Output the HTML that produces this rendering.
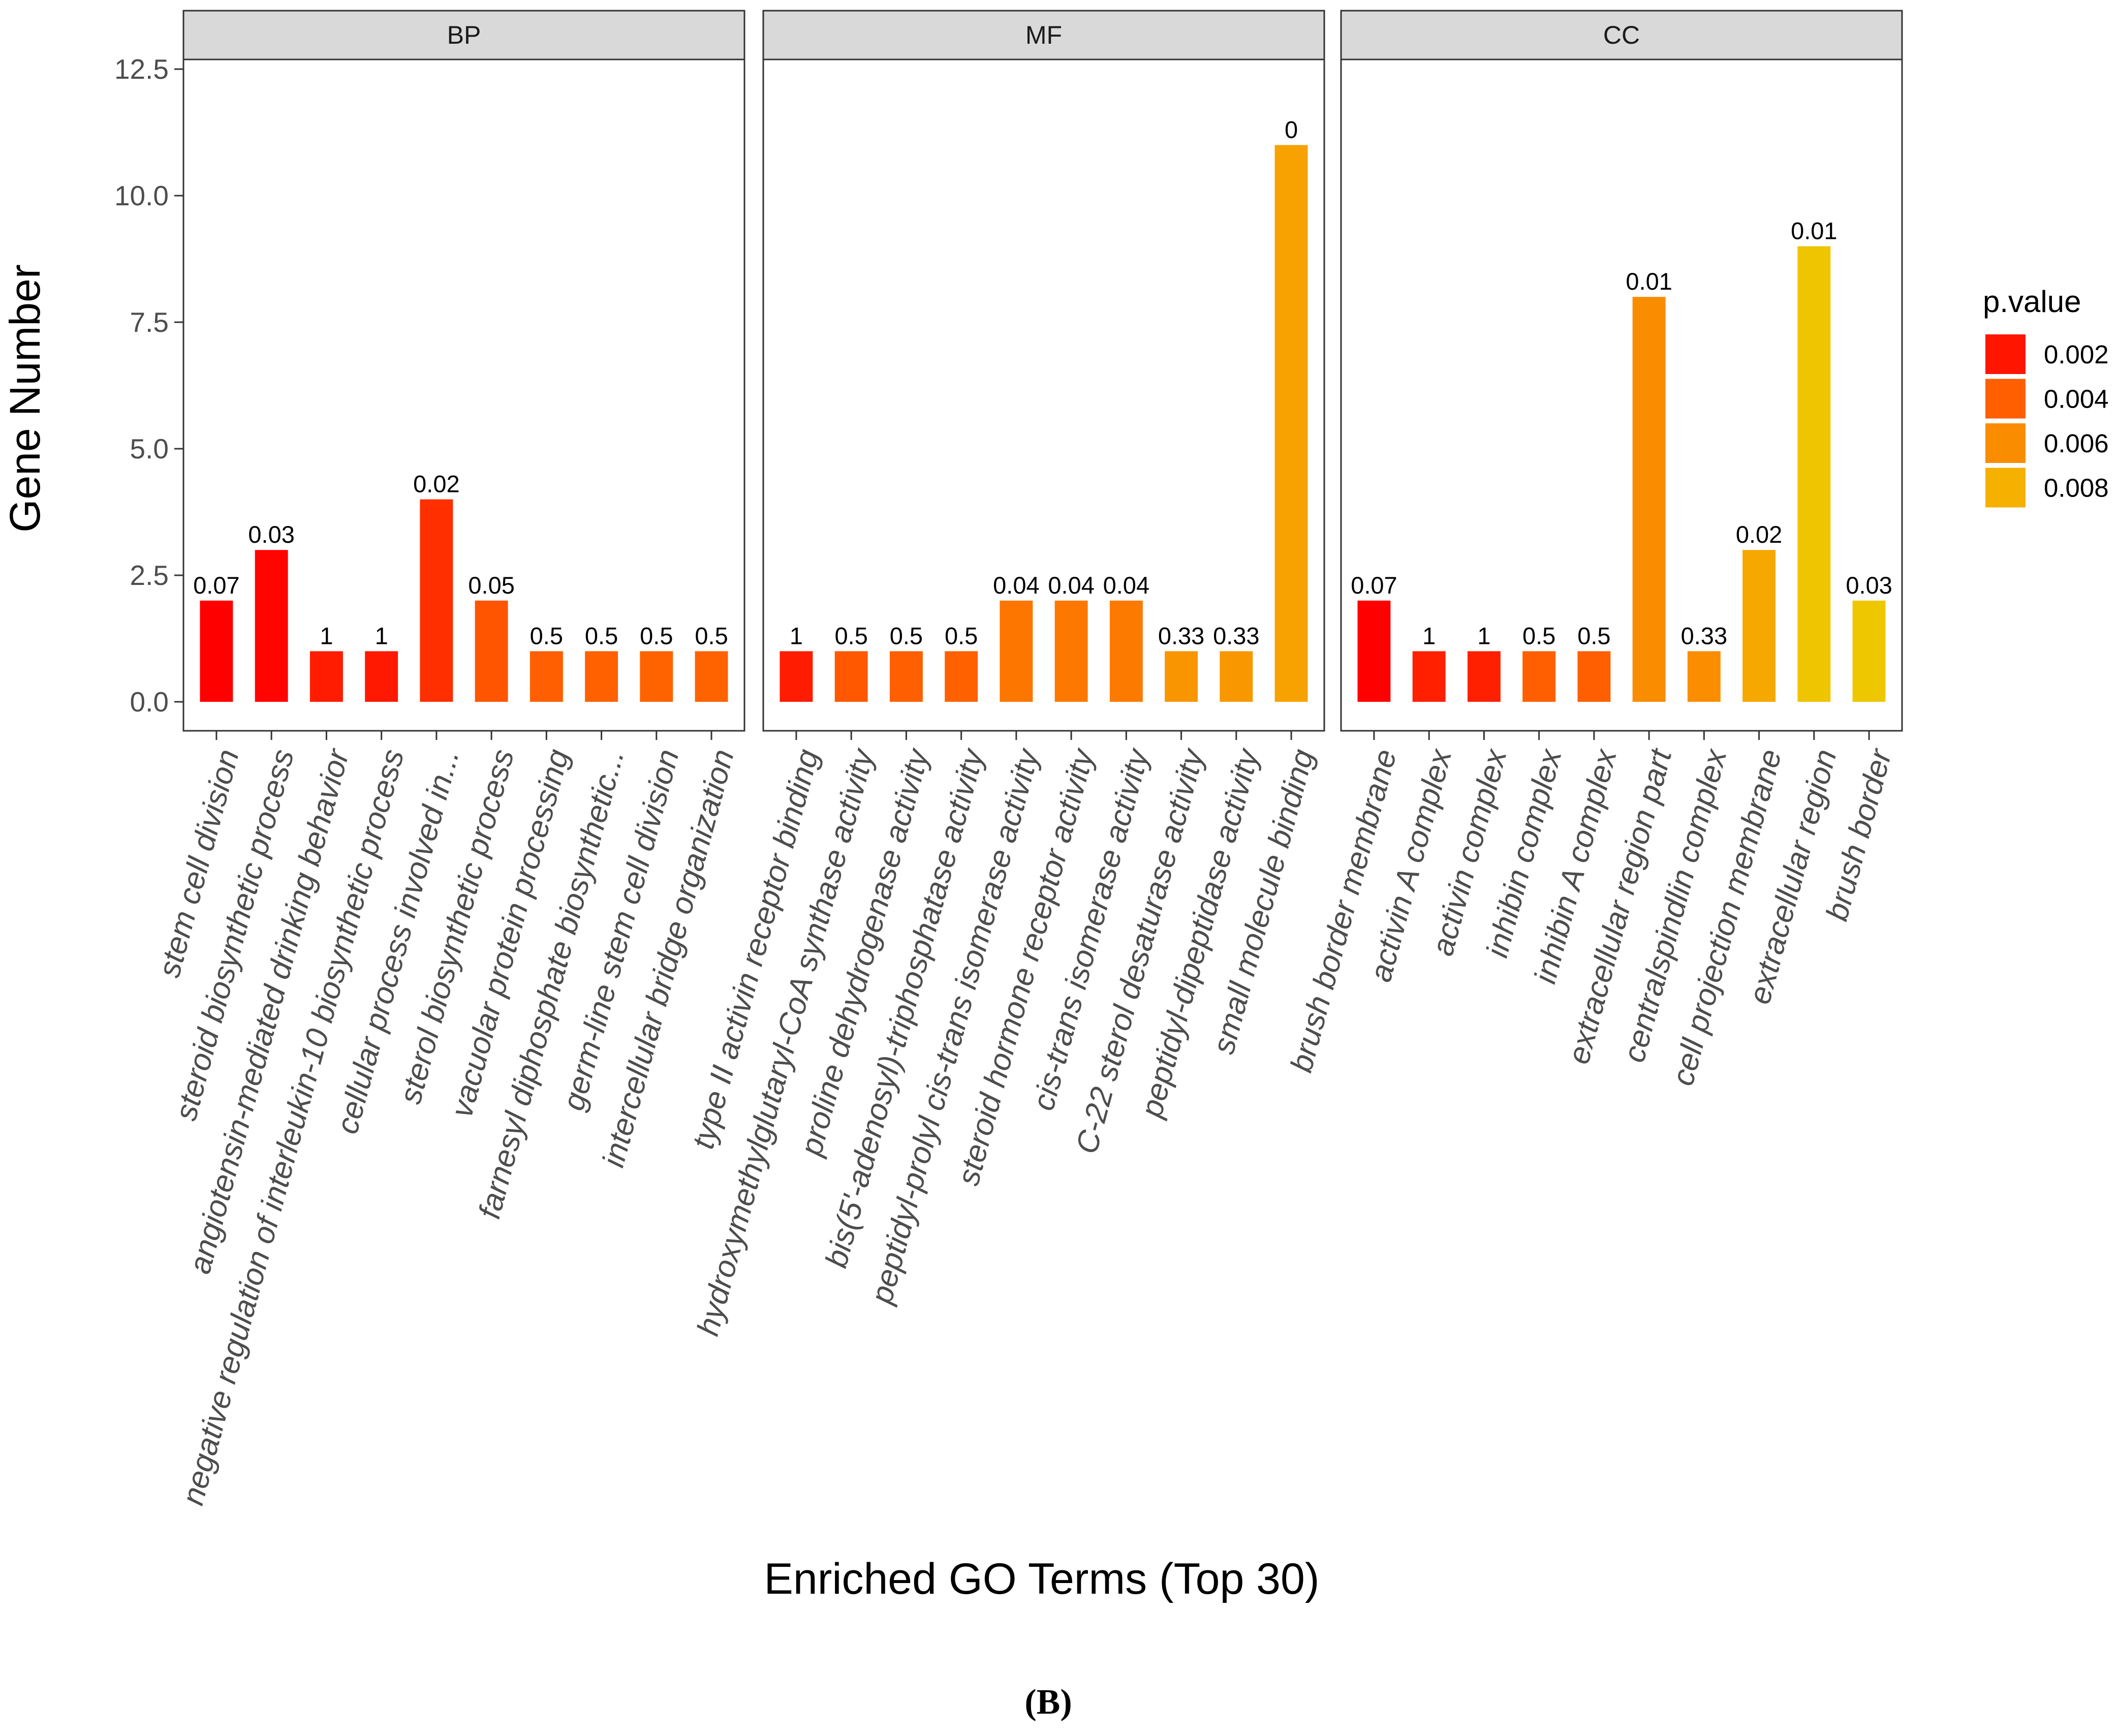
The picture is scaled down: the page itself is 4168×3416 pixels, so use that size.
<!DOCTYPE html>
<html><head><meta charset="utf-8"><style>
html,body{margin:0;padding:0;background:#fff;}
svg{display:block;font-family:"Liberation Sans",sans-serif;}
</style></head><body>
<svg id="chart" width="4168" height="3416" viewBox="0 0 4168 3416" xmlns="http://www.w3.org/2000/svg"></svg>
<script>
const panels = ["BP","MF","CC"];
const bpTerms = ["stem cell division","steroid biosynthetic process","angiotensin-mediated drinking behavior","negative regulation of interleukin-10 biosynthetic process","cellular process involved in...","sterol biosynthetic process","vacuolar protein processing","farnesyl diphosphate biosynthetic...","germ-line stem cell division","intercellular bridge organization"];
const mfTerms = ["type II activin receptor binding","hydroxymethylglutaryl-CoA synthase activity","proline dehydrogenase activity","bis(5'-adenosyl)-triphosphatase activity","peptidyl-prolyl cis-trans isomerase activity","steroid hormone receptor activity","cis-trans isomerase activity","C-22 sterol desaturase activity","peptidyl-dipeptidase activity","small molecule binding"];
const ccTerms = ["brush border membrane","activin A complex","activin complex","inhibin complex","inhibin A complex","extracellular region part","centralspindlin complex","cell projection membrane","extracellular region","brush border"];
const bpCounts = [2,3,1,1,4,2,1,1,1,1];
const mfCounts = [1,1,1,1,2,2,2,1,1,11];
const ccCounts = [2,1,1,1,1,8,1,3,9,2];
const bpLabels = ["0.07","0.03","1","1","0.02","0.05","0.5","0.5","0.5","0.5"];
const mfLabels = ["1","0.5","0.5","0.5","0.04","0.04","0.04","0.33","0.33","0"];
const ccLabels = ["0.07","1","1","0.5","0.5","0.01","0.33","0.02","0.01","0.03"];
const bpP = [0.0015,0.0016,0.0022,0.0021,0.0027,0.0037,0.0040,0.0041,0.0042,0.0042];
const mfP = [0.0022,0.0038,0.0040,0.0041,0.0050,0.0051,0.0052,0.0065,0.0066,0.0072];
const ccP = [0.0015,0.0023,0.0023,0.0040,0.0040,0.0060,0.0061,0.0075,0.0092,0.0094];
const yTicks = [0,2.5,5,7.5,10,12.5];
const yTickLabels = ["0.0","2.5","5.0","7.5","10.0","12.5"];
const legendValues = [0.002,0.004,0.006,0.008];
const legendLabels = ["0.002","0.004","0.006","0.008"];

const NS="http://www.w3.org/2000/svg";
const svg=document.getElementById('chart');
function mk(tag,attrs,parent,text){const e=document.createElementNS(NS,tag);for(const k in attrs)e.setAttribute(k,attrs[k]);if(text!==undefined)e.textContent=text;(parent||svg).appendChild(e);return e;}

const panelX=[361,1502,2639], panelW=1104, panelTop=117, panelBot=1438, stripTop=21;
const y0=1381, yUnit=99.6;
function yScale(v){return y0-v*yUnit;}
function xScale(p,i){const u=panelW/10.2;return panelX[p]+(0.6+i)*u;}
const stops=[[0.0015,[255,0,0]],[0.002,[255,21,0]],[0.004,[255,95,0]],[0.006,[250,140,0]],[0.008,[245,176,0]],[0.0095,[238,201,0]]];
function color(p){if(p<=stops[0][0])return 'rgb(255,0,0)';for(let i=1;i<stops.length;i++){if(p<=stops[i][0]){const a=stops[i-1],b=stops[i];const t=(p-a[0])/(b[0]-a[0]);const c=a[1].map((v,k)=>Math.round(v+(b[1][k]-v)*t));return 'rgb('+c.join(',')+')';}}return 'rgb(238,201,0)';}

const terms=[bpTerms,mfTerms,ccTerms], counts=[bpCounts,mfCounts,ccCounts], labels=[bpLabels,mfLabels,ccLabels], pv=[bpP,mfP,ccP];

yTicks.forEach((t,i)=>{
  const tk=mk('line',{x1:343,x2:361,y1:yScale(t),y2:yScale(t),stroke:'#333','stroke-width':3});
  
  
  const tl=mk('text',{x:332,y:yScale(t)+19,'text-anchor':'end','font-size':55,fill:'#4d4d4d'},svg,yTickLabels[i]);
  
  
});

panels.forEach((name,p)=>{
  const g=mk('g',{});
  
  
  const st=mk('rect',{x:panelX[p],y:stripTop,width:panelW,height:panelTop-stripTop,fill:'#d9d9d9',stroke:'#333','stroke-width':3},g);
  
  
  const stt=mk('text',{x:panelX[p]+panelW/2,y:86,'text-anchor':'middle','font-size':50,fill:'#1a1a1a'},g,name);
  
  
  const bw=panelW/10.2*0.6;
  counts[p].forEach((v,i)=>{
    const cx=xScale(p,i);
    const b=mk('rect',{x:cx-bw/2,y:yScale(v),width:bw,height:y0-yScale(v),fill:color(pv[p][i])},g);
    
    
    const vl=mk('text',{x:cx,y:yScale(v)-14,'text-anchor':'middle','font-size':47,fill:'#000'},g,labels[p][i]);
    
    
    const tk=mk('line',{x1:cx,x2:cx,y1:panelBot,y2:panelBot+18,stroke:'#333','stroke-width':3},g);
    
    
    const tl=mk('text',{x:cx+2,y:panelBot+32,'text-anchor':'end','dominant-baseline':'hanging','font-size':61,'font-style':'italic',fill:'#4d4d4d',transform:'rotate(-75 '+(cx+2)+' '+(panelBot+32)+')'},g,terms[p][i]);
    
    
  });
  const pb=mk('rect',{x:panelX[p],y:panelTop,width:panelW,height:panelBot-panelTop,fill:'none',stroke:'#333','stroke-width':3},g);
  
  
});

const lt=mk('text',{x:3902,y:614,'font-size':60,fill:'#000'},svg,'p.value');


legendValues.forEach((v,i)=>{
  const y=658+i*87.5;
  const r=mk('rect',{x:3907,y:y,width:79,height:78,fill:color(v)});
  
  
  const t=mk('text',{x:4022,y:y+57,'font-size':51,fill:'#000'},svg,legendLabels[i]);
  
  
});

const yt=mk('text',{x:0,y:0,'text-anchor':'middle','font-size':84,fill:'#000',transform:'translate(78 784) rotate(-90)'},svg,'Gene Number');


const xt=mk('text',{x:2050,y:3136,'text-anchor':'middle','font-size':86,fill:'#000'},svg,'Enriched GO Terms (Top 30)');


const cap=mk('text',{x:2063,y:3372,'text-anchor':'middle','font-size':70,'font-weight':'bold','font-family':'"Liberation Serif",serif',fill:'#000'},svg,'(B)');


</script>
</body></html>
